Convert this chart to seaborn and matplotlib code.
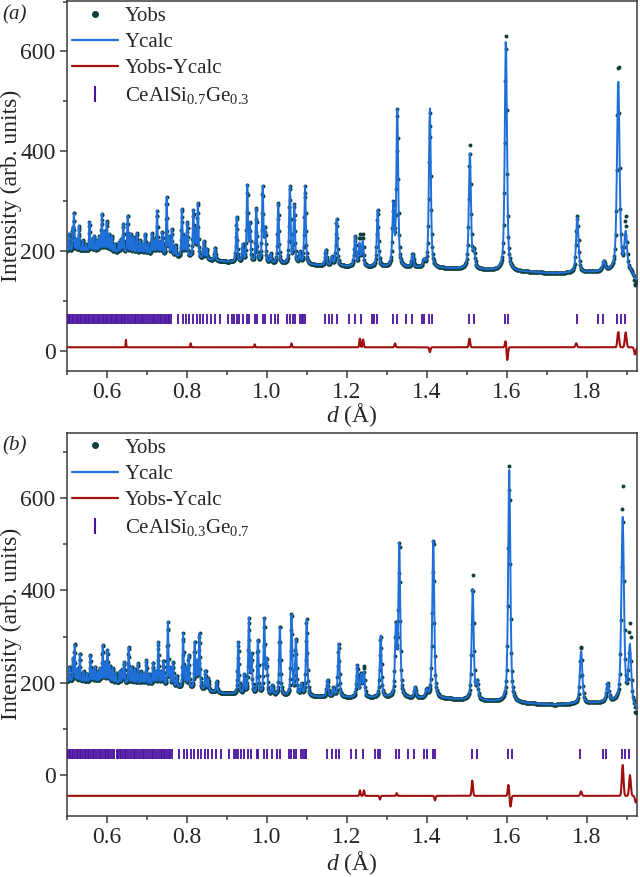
import numpy as np
import pandas as pd
import matplotlib
matplotlib.use("Agg")
import matplotlib.pyplot as plt
from matplotlib.lines import Line2D
from matplotlib.ticker import MultipleLocator
import seaborn as sns

# ---------------- data ----------------
# panel (a): CeAlSi0.7Ge0.3
A_PEAK_D = [0.506, 0.515, 0.518, 0.524, 0.531, 0.540, 0.548, 0.557, 0.563, 0.569,
            0.576, 0.582, 0.588, 0.594, 0.600, 0.606, 0.6125, 0.620, 0.630, 0.636,
            0.6415, 0.6525, 0.660, 0.667, 0.675, 0.683, 0.689, 0.696, 0.704, 0.713,
            0.719, 0.726, 0.733, 0.739, 0.750, 0.756, 0.763, 0.772, 0.788, 0.795,
            0.8015, 0.8165, 0.822, 0.828, 0.843, 0.850, 0.871, 0.925, 0.940, 0.9515,
            0.958, 0.974, 0.990, 0.996, 1.010, 1.029, 1.058, 1.069, 1.083, 1.096,
            1.148, 1.163, 1.175, 1.221, 1.232, 1.240, 1.2775, 1.3165, 1.3265, 1.365,
            1.393, 1.408, 1.508, 1.518, 1.598, 1.7765, 1.843, 1.879, 1.8975]
A_PEAK_I = [235, 248, 278, 225, 251, 222, 215, 258, 225, 231,
            222, 230, 276, 240, 260, 235, 230, 215, 218, 225,
            255, 273, 235, 228, 236, 222, 215, 235, 215, 236,
            222, 281, 220, 238, 308, 230, 245, 212, 286, 230,
            259, 283, 245, 298, 221, 205, 206, 270, 215, 333,
            260, 288, 331, 250, 195, 298, 333, 295, 200, 331,
            203, 190, 265, 231, 218, 221, 283, 300, 489, 195,
            185, 487, 399, 205, 627, 268, 181, 551, 241]
A_BG_D = [0.50, 0.60, 0.70, 0.80, 0.88, 0.90, 1.00, 1.10, 1.20, 1.30, 1.45, 1.55,
          1.65, 1.72, 1.80, 1.87, 1.91, 1.925]
A_BG_I = [200, 198, 192, 186, 180, 178, 174, 172, 169, 167, 165, 162,
          158, 155, 157, 160, 158, 140]
A_DIFF_D = [0.648, 0.810, 0.970, 1.062, 1.233, 1.241, 1.321, 1.408, 1.507, 1.5975,
            1.6015, 1.774, 1.879, 1.8975, 1.921]
A_DIFF_I = [15, 8, 6, 8, 18, 16, 8, -10, 18, 14, -27, 8, 32, 30, -15]
A_TICKS = [0.501, 0.505, 0.509, 0.513, 0.517, 0.521, 0.525, 0.529, 0.533, 0.537,
           0.541, 0.545, 0.549, 0.553, 0.557, 0.561, 0.565, 0.569, 0.573,
           0.578, 0.582, 0.586, 0.590, 0.594, 0.598, 0.602, 0.606, 0.610, 0.614, 0.618,
           0.623, 0.627, 0.631, 0.635, 0.639, 0.643, 0.647, 0.652, 0.657, 0.661,
           0.666, 0.670, 0.674, 0.679, 0.684, 0.688, 0.692, 0.697, 0.702, 0.706,
           0.711, 0.715, 0.719, 0.723, 0.728, 0.733, 0.737, 0.741, 0.745, 0.749,
           0.753, 0.757, 0.761,
           0.779, 0.790, 0.798, 0.8065, 0.815, 0.825, 0.833, 0.8415, 0.850, 0.8608,
           0.8708, 0.883, 0.904, 0.914, 0.919, 0.925, 0.9315, 0.940, 0.950, 0.9565,
           0.9708, 0.975, 0.990, 0.9958, 1.010, 1.0215, 1.029, 1.0515, 1.058, 1.065,
           1.070, 1.083, 1.088, 1.0915, 1.095, 1.1458, 1.1565, 1.1625, 1.175, 1.2065,
           1.2208, 1.2358, 1.2625, 1.268, 1.2765, 1.3165, 1.325, 1.348, 1.3625, 1.3875,
           1.393, 1.4065, 1.4125, 1.5058, 1.519, 1.5958, 1.604, 1.775, 1.829, 1.8417,
           1.8767, 1.885, 1.8958]

# panel (b): CeAlSi0.3Ge0.7
B_PEAK_D = [0.507, 0.516, 0.520, 0.526, 0.533, 0.542, 0.550, 0.559, 0.565, 0.571,
            0.578, 0.584, 0.590, 0.596, 0.602, 0.608, 0.615, 0.623, 0.633, 0.639,
            0.644, 0.655, 0.663, 0.670, 0.678, 0.686, 0.692, 0.699, 0.707, 0.716,
            0.722, 0.729, 0.736, 0.742, 0.753, 0.759, 0.766, 0.775, 0.791, 0.798,
            0.805, 0.820, 0.826, 0.832, 0.847, 0.854, 0.875, 0.929, 0.944, 0.9555,
            0.962, 0.978, 0.994, 1.000, 1.014, 1.033, 1.062, 1.073, 1.087, 1.100,
            1.152, 1.167, 1.180, 1.2265, 1.236, 1.243, 1.285, 1.323, 1.3315, 1.371,
            1.400, 1.4165, 1.515, 1.5265, 1.6065, 1.786, 1.8525, 1.890, 1.908]
B_PEAK_I = [235, 255, 285, 230, 264, 225, 220, 261, 228, 235,
            225, 232, 284, 245, 272, 238, 232, 222, 225, 230,
            245, 278, 235, 230, 243, 225, 220, 249, 220, 245,
            225, 289, 225, 248, 332, 235, 246, 215, 307, 235,
            261, 292, 250, 308, 227, 210, 204, 289, 220, 342,
            265, 296, 340, 255, 195, 325, 352, 296, 200, 339,
            207, 190, 285, 238, 220, 225, 305, 333, 509, 191,
            188, 516, 404, 207, 661, 271, 200, 560, 285]
B_BG_D = [0.50, 0.60, 0.70, 0.80, 0.90, 1.00, 1.10, 1.20, 1.30, 1.45, 1.55,
          1.65, 1.72, 1.80, 1.87, 1.91, 1.925]
B_BG_I = [203, 200, 194, 187, 176, 172, 170, 168, 167, 165, 160,
          155, 152, 155, 158, 155, 140]
B_DIFF_D = [1.2333, 1.2433, 1.2833, 1.325, 1.4208, 1.514, 1.6045, 1.6095, 1.786,
            1.890, 1.9083, 1.923]
B_DIFF_I = [12, 12, -8, 6, -10, 34, 25, -25, 10, 67, 45, -15]
B_TICKS = [0.501, 0.505, 0.509, 0.513, 0.517, 0.521, 0.525, 0.529, 0.533, 0.537,
           0.541, 0.545, 0.549, 0.553, 0.557, 0.561, 0.565, 0.569, 0.573,
           0.579, 0.583, 0.587, 0.591, 0.595, 0.599, 0.603, 0.607, 0.611, 0.615, 0.619,
           0.625, 0.629, 0.633, 0.637, 0.641, 0.645, 0.649, 0.654, 0.659, 0.663,
           0.668, 0.672, 0.676, 0.681, 0.686, 0.690, 0.694, 0.699, 0.704, 0.708,
           0.713, 0.717, 0.721, 0.725, 0.730, 0.735, 0.739, 0.743, 0.747, 0.751,
           0.755, 0.759, 0.763,
           0.782, 0.793, 0.801, 0.810, 0.818, 0.828, 0.836, 0.845, 0.853, 0.864,
           0.874, 0.886, 0.907, 0.918, 0.923, 0.929, 0.935, 0.944, 0.954, 0.960,
           0.975, 0.979, 0.994, 1.000, 1.014, 1.026, 1.033, 1.056, 1.062, 1.069,
           1.074, 1.087, 1.092, 1.096, 1.099, 1.1517, 1.1625, 1.1733, 1.1817, 1.21,
           1.2233, 1.24, 1.2708, 1.2775, 1.2833, 1.3233, 1.3317, 1.3542, 1.3683, 1.3933,
           1.40, 1.415, 1.4208, 1.5125, 1.525, 1.6042, 1.6125, 1.7833, 1.84, 1.8483,
           1.8875, 1.8958, 1.9058]

X_TICKS = [0.6, 0.8, 1.0, 1.2, 1.4, 1.6, 1.8]
Y_TICKS = [0, 200, 400, 600]
LABEL_A = r"CeAlSi$_{0.7}$Ge$_{0.3}$"
LABEL_B = r"CeAlSi$_{0.3}$Ge$_{0.7}$"

# ---------------- style ----------------
sns.set_theme(style="ticks")
plt.rcParams["font.family"] = ["Liberation Serif", "DejaVu Serif"]
plt.rcParams["mathtext.fontset"] = "custom"
plt.rcParams["mathtext.rm"] = "Liberation Serif"
plt.rcParams["mathtext.it"] = "Liberation Serif:italic"

C_OBS = "#0e3f3c"
C_CALC = "#1f6fd8"
C_DIFF = "#a00f0f"
C_TICK = "#4a10a0"
C_SPINE = "#3a3a3a"

GRID = np.geomspace(0.5, 1.925, 1700)


def shape(x, p):
    w = 0.0040 * p
    u = (x - p) / w
    return 0.55 / (1 + 4 * u ** 2) + 0.45 * np.exp(-4 * np.log(2) * u ** 2)


def build(peak_d, peak_i, bg_d, bg_i, diff_d, diff_i):
    pd_ = np.asarray(peak_d, float)
    pi_ = np.asarray(peak_i, float)
    bg = np.interp(GRID, bg_d, bg_i)
    target = pi_ - np.interp(pd_, bg_d, bg_i)
    A = np.array([[shape(pi, pj) for pj in pd_] for pi in pd_])
    h = np.clip(np.linalg.solve(A, target), 0, None)
    calc = bg.copy()
    for p, hh in zip(pd_, h):
        calc += hh * shape(GRID, p)
    diff = np.zeros_like(GRID)
    for p, a in zip(diff_d, diff_i):
        s = 0.0011 * p
        diff += a * np.exp(-0.5 * ((GRID - p) / s) ** 2)
    return calc + diff, calc, diff


fig = plt.figure(figsize=(6.4, 8.77), dpi=100)
ax_a = fig.add_axes([0.1042, 0.5773, 0.8906, 0.4215])
ax_b = fig.add_axes([0.1042, 0.0699, 0.8906, 0.4364])

panels = [
    (ax_a, A_PEAK_D, A_PEAK_I, A_BG_D, A_BG_I, A_DIFF_D, A_DIFF_I, A_TICKS, LABEL_A,
     7, 63, (-40, 701), "(a)", 1 - 15 / 877, -0.083),
    (ax_b, B_PEAK_D, B_PEAK_I, B_BG_D, B_BG_I, B_DIFF_D, B_DIFF_I, B_TICKS, LABEL_B,
     -45, 45, (-88, 741), "(b)", 1 - 446 / 877, -0.086),
]

for (ax, pk_d, pk_i, bg_d, bg_i, df_d, df_i, ticks, lab, doff, toff, ylim, tag, tagy,
     xly) in panels:
    obs, calc, diff = build(pk_d, pk_i, bg_d, bg_i, df_d, df_i)
    df = pd.DataFrame({"d": GRID, "obs": obs, "calc": calc, "diff": diff + doff})
    sns.scatterplot(data=df, x="d", y="obs", ax=ax, s=8, color=C_OBS, linewidth=0,
                    zorder=2, legend=False)
    sns.lineplot(data=df, x="d", y="calc", ax=ax, color=C_CALC, lw=1.4,
                 estimator=None, sort=False, zorder=3, legend=False)
    sns.lineplot(data=df, x="d", y="diff", ax=ax, color=C_DIFF, lw=1.5,
                 estimator=None, sort=False, zorder=3, legend=False)
    tdf = pd.DataFrame({"d": ticks, "y": [toff] * len(ticks)})
    sns.scatterplot(data=tdf, x="d", y="y", ax=ax, marker="|", s=60, color=C_TICK,
                    linewidth=1.3, zorder=3, legend=False)

    ax.set_xlim(0.5, 1.925)
    ax.set_ylim(*ylim)
    ax.set_xticks(X_TICKS)
    ax.set_xticklabels([f"{v:.1f}" for v in X_TICKS])
    ax.set_yticks(Y_TICKS)
    ax.xaxis.set_minor_locator(MultipleLocator(0.1))
    ax.yaxis.set_minor_locator(MultipleLocator(100))
    ax.tick_params(axis="both", which="major", direction="out", length=5, width=1.1,
                   labelsize=17, color=C_SPINE, pad=3)
    ax.tick_params(axis="both", which="minor", direction="out", length=3, width=1.1,
                   color=C_SPINE)
    for sp in ax.spines.values():
        sp.set_visible(True)
        sp.set_color(C_SPINE)
        sp.set_linewidth(1.1)
    ax.set_xlabel(r"$d$ (Å)", fontsize=17)
    ax.set_ylabel("Intensity (arb. units)", fontsize=17)
    ax.yaxis.set_label_coords(-0.079, 0.5)
    ax.xaxis.set_label_coords(0.5, xly)

    handles = [
        Line2D([], [], ls="", marker="o", ms=4, color=C_OBS),
        Line2D([], [], color=C_CALC, lw=1.6),
        Line2D([], [], color=C_DIFF, lw=1.6),
        Line2D([], [], ls="", marker="|", ms=12, mew=1.5, color=C_TICK),
    ]
    ax.legend(handles, ["Yobs", "Ycalc", "Yobs-Ycalc", lab], loc="upper left",
              bbox_to_anchor=(0.0, 1.0), frameon=False, fontsize=15,
              handlelength=2.2, handletextpad=0.35, labelspacing=0.32,
              borderaxespad=0.1, borderpad=0.15)
    fig.text(0.004, tagy, tag, fontsize=15, style="italic", va="center", ha="left")

fig.savefig("out.png", dpi=100)
